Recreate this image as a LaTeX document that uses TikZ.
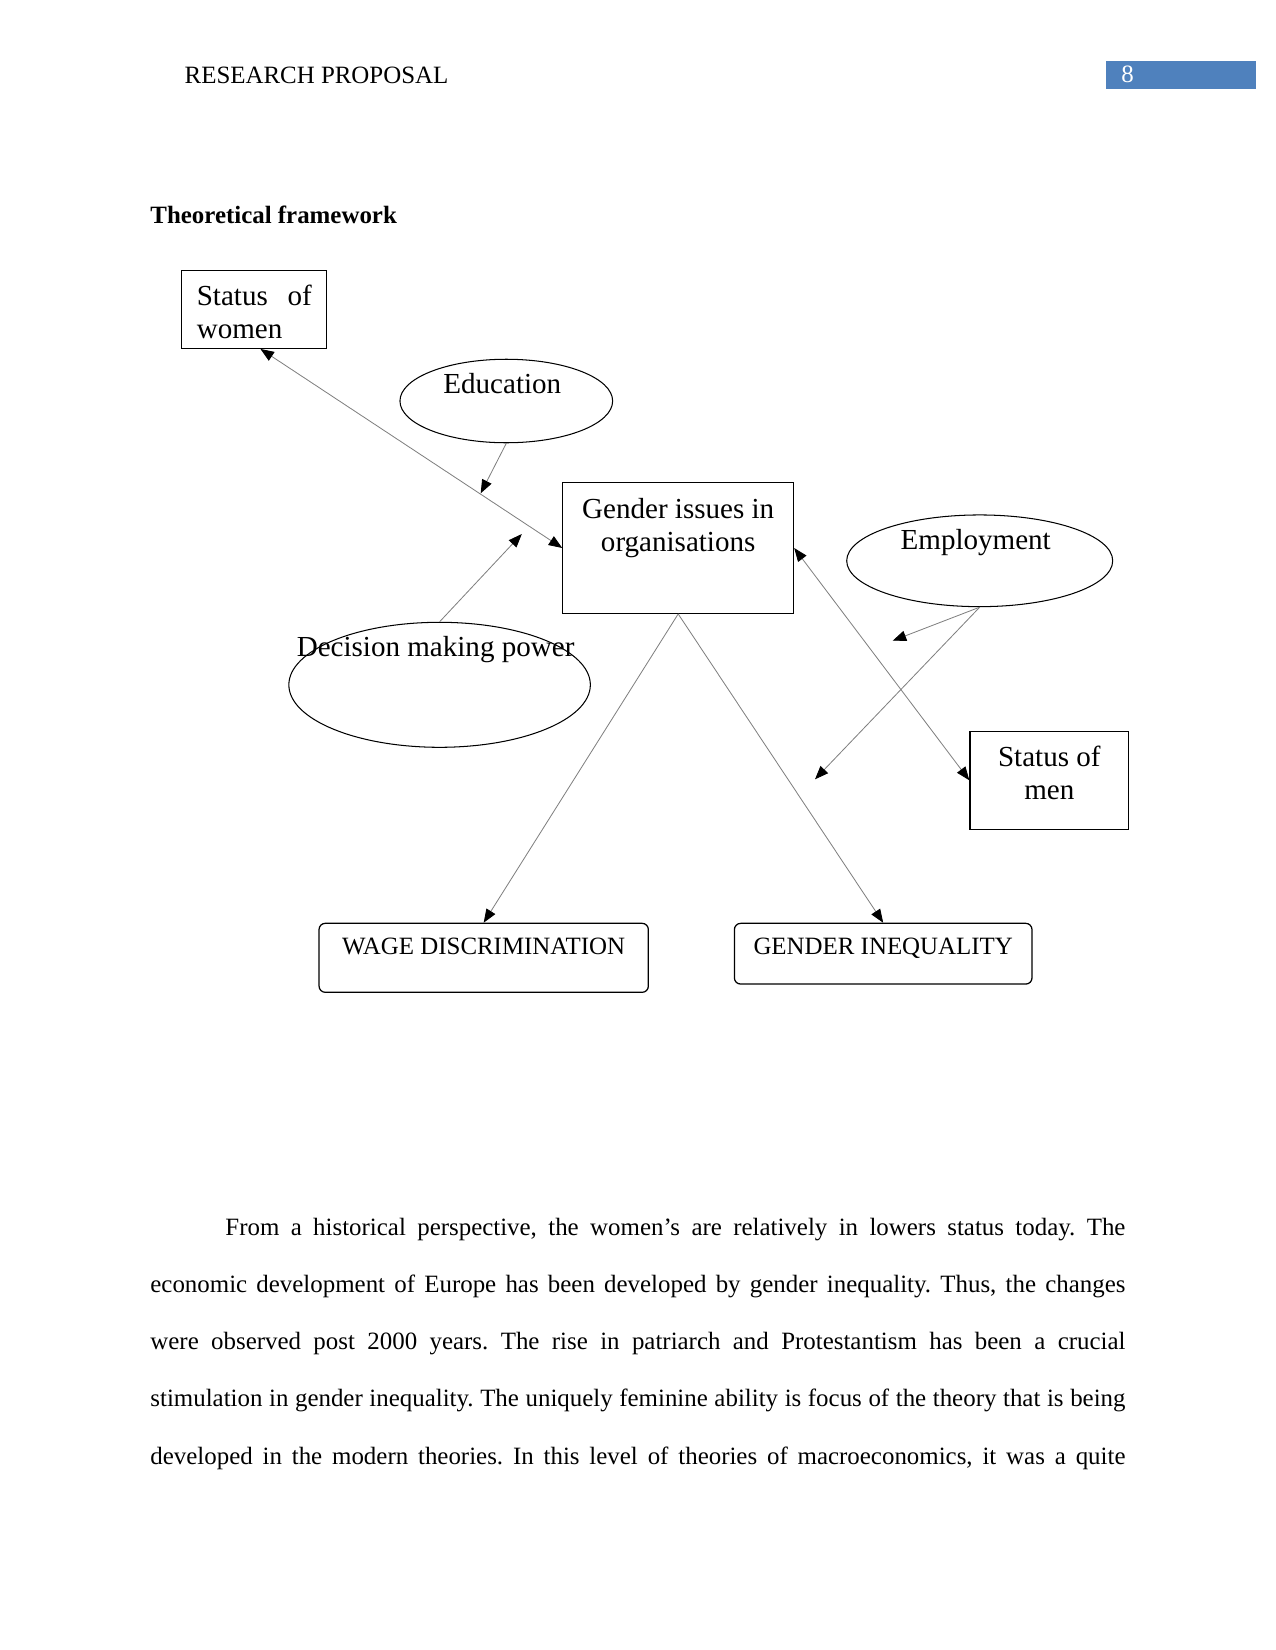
\documentclass[tikz,border=0pt]{standalone}
\usepackage{fontspec}
\setmainfont{Liberation Serif}
\usetikzlibrary{arrows.meta,shapes.geometric,positioning}

\definecolor{hdrblue}{RGB}{79,129,189}
\def\pu{0.48bp}

\tikzset{
  box/.style={draw, line width=0.6pt, inner sep=0pt},
  rbox/.style={box, rounded corners=3pt},
  oval/.style={draw, ellipse, line width=0.5pt, inner sep=0pt},
  big/.style={font=\fontsize{14}{16}\selectfont, inner sep=0pt, align=center},
  small/.style={font=\fontsize{12}{14}\selectfont, inner sep=0pt},
  intext/.style={anchor=north, yshift=-14*\pu},
  link/.style={gray, line width=0.4pt, -{Triangle[length=6.5pt,width=5pt,color=black]}},
  twoway/.style={link, {Triangle[length=6.5pt,width=5pt,color=black]}-{Triangle[length=6.5pt,width=5pt,color=black]}},
}

\begin{document}
\begin{tikzpicture}[x=0.48bp, y=-0.48bp]
    \useasboundingbox (0,0) rectangle (1275,1650);

    % header
    \node[small, anchor=base west] (head) at (184.3,83.5) {RESEARCH PROPOSAL};
    \fill[hdrblue] (1105.7,61) rectangle (1255.7,89);
    \node[small, white, anchor=base west] (pagenum) at (1121,82.5) {8};
    \node[small, font=\bfseries\fontsize{12}{14}\selectfont, anchor=base west] (title) at (150,223.5) {Theoretical framework};

    % boxes and ovals
    \node[box, minimum width=145*\pu, minimum height=77.6*\pu,
      label={[big, align=left, text width=115*\pu, anchor=north west, xshift=15.3*\pu, yshift=-14.3*\pu]north west:{Status\hspace{0pt plus 1filll}of\\women}}]
      (women) at (254.2,309.5) {};
    \node[oval, minimum width=212.7*\pu, minimum height=83.5*\pu,
      label={[big, intext, xshift=-4*\pu]north:Education}]
      (edu) at (506.3,401) {};
    \node[box, minimum width=230.7*\pu, minimum height=130.6*\pu,
      label={[big, intext, yshift=-2*\pu]north:{Gender issues in\\organisations}}]
      (gend) at (678.2,548) {};
    \node[oval, minimum width=266*\pu, minimum height=91.7*\pu,
      label={[big, intext, xshift=-4*\pu]north:Employment}]
      (emp) at (979.7,560.8) {};
    \node[oval, minimum width=301.5*\pu, minimum height=125*\pu,
      label={[big, intext, xshift=-4*\pu]north:Decision making power}]
      (dec) at (439.6,684.8) {};
    \node[box, minimum width=158.7*\pu, minimum height=98*\pu,
      label={[big, intext, yshift=-1*\pu]north:{Status of\\men}}]
      (men) at (1049.3,780.3) {};
    \node[rbox, minimum width=329.3*\pu, minimum height=69*\pu,
      label={[small, intext, yshift=-1*\pu]north:WAGE DISCRIMINATION}]
      (wage) at (483.7,957.8) {};
    \node[rbox, minimum width=297.6*\pu, minimum height=60.7*\pu,
      label={[small, intext, yshift=-1*\pu]north:GENDER INEQUALITY}]
      (ineq) at (883.2,953.7) {};

    % loose arrow ends
    \coordinate (edutip) at (480.7,493.3);
    \coordinate (dectip) at (521.8,534);
    \coordinate (emptipa) at (892.7,640.7);
    \coordinate (emptipb) at (815,779.3);

    % connectors
    \draw[twoway] (women.-81) -- (gend.west);
    \draw[link] (edu.south) -- (edutip);
    \draw[link] (dec.north) -- (dectip);
    \draw[link] (gend.south) -- (wage.north);
    \draw[link] (gend.south) -- (ineq.north);
    \draw[twoway] (gend.east) -- (men.west);
    \draw[link] (emp.south) -- (emptipa);
    \draw[link] (emp.south) -- (emptipb);

    % body text
    \node[anchor=north west, inner sep=0pt, text width=468bp, align=justify,
      font=\fontsize{12}{27.5}\selectfont] (para) at (150,1218)
      {\frenchspacing\parfillskip=0pt\noindent\hspace*{36bp}From a historical perspective, the women’s are relatively in lowers status today. The\linebreak
      economic development of Europe has been developed by gender inequality. Thus, the changes\linebreak
      were observed post 2000 years. The rise in patriarch and Protestantism has been a crucial\linebreak
      stimulation in gender inequality. The uniquely feminine ability is focus of the theory that is being\linebreak
      developed in the modern theories. In this level of theories of macroeconomics, it was a quite\par};
\end{tikzpicture}
\end{document}
